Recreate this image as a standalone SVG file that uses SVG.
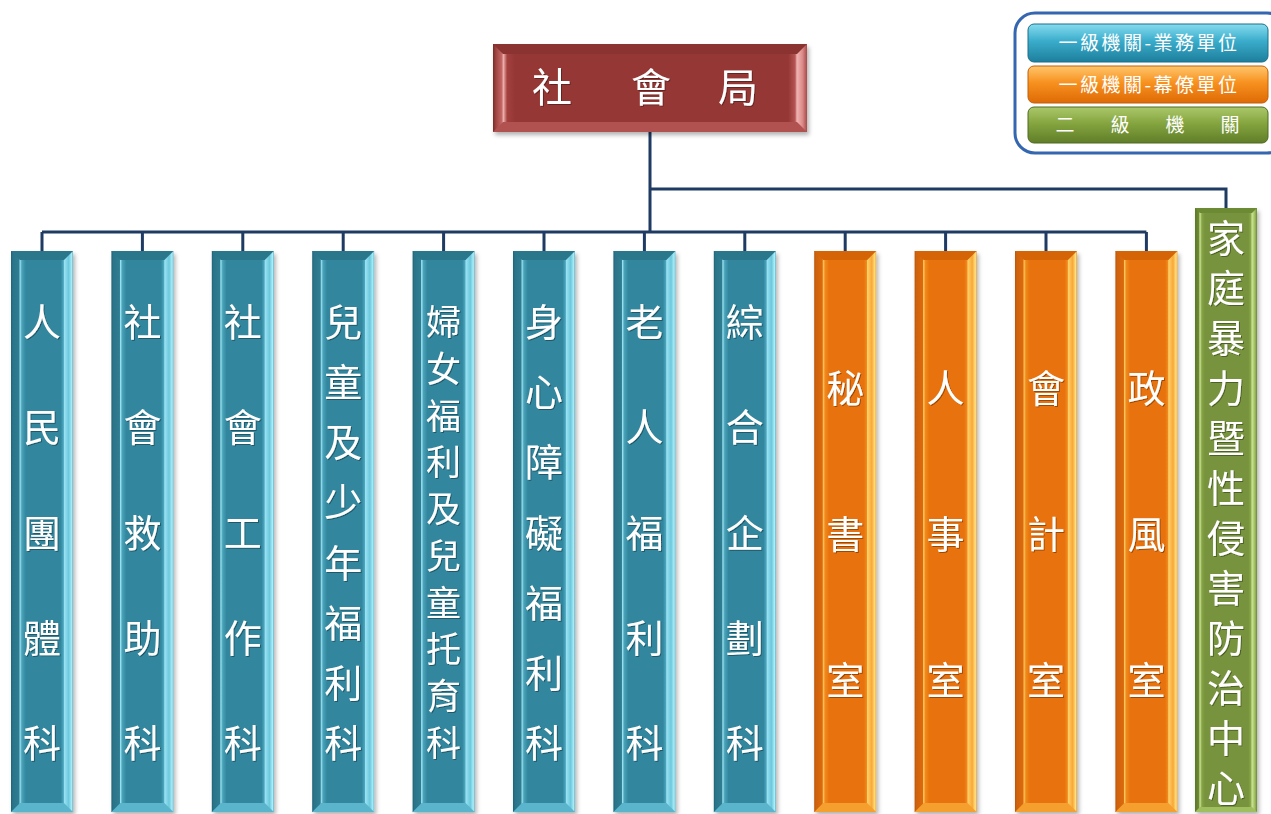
<svg xmlns="http://www.w3.org/2000/svg" width="1271" height="814" viewBox="0 0 1271 814">
<style>
.lbl{font-family:"Noto Sans CJK TC","Noto Sans CJK SC",sans-serif;fill:#ffffff;text-anchor:middle;}
.col{font-size:38px;filter:url(#ts);}
.col.dense{font-size:35px;}
.conn{fill:none;stroke:#1f3a63;stroke-width:3;}
.tealTop{fill:#2a778c;} .tealBot{fill:#5ab5cc;}
.orgTop{fill:#d56407;} .orgBot{fill:#f5a02e;}
.grnTop{fill:#6c8934;} .grnBot{fill:#9fbe5e;}
.lg{font-size:19px;letter-spacing:2.5px;}
</style>
<defs>
<filter id="sh" x="-10%" y="-10%" width="130%" height="130%"><feDropShadow dx="2" dy="3" stdDeviation="2" flood-color="#000" flood-opacity="0.3"/></filter>
<filter id="ts" x="-20%" y="-20%" width="140%" height="140%"><feDropShadow dx="1" dy="1" stdDeviation="0.6" flood-color="#000" flood-opacity="0.35"/></filter>
<linearGradient id="gTeal" x1="0" y1="0" x2="1" y2="0">
<stop offset="0" stop-color="#1f6376"/><stop offset="0.03" stop-color="#2b7489"/><stop offset="0.13" stop-color="#2f7c91"/><stop offset="0.145" stop-color="#9be3f2"/><stop offset="0.175" stop-color="#4aa3ba"/><stop offset="0.24" stop-color="#31869d"/><stop offset="0.8" stop-color="#31869d"/><stop offset="0.845" stop-color="#4aa6be"/><stop offset="0.86" stop-color="#9ae2f2"/><stop offset="0.93" stop-color="#6cc8dd"/><stop offset="0.98" stop-color="#aaeef8"/><stop offset="1" stop-color="#5aaec4"/>
</linearGradient>
<linearGradient id="gOrg" x1="0" y1="0" x2="1" y2="0">
<stop offset="0" stop-color="#b9560a"/><stop offset="0.03" stop-color="#cf620a"/><stop offset="0.13" stop-color="#db6a0b"/><stop offset="0.145" stop-color="#ffc65e"/><stop offset="0.175" stop-color="#f08a1c"/><stop offset="0.24" stop-color="#e8720c"/><stop offset="0.8" stop-color="#e8720c"/><stop offset="0.845" stop-color="#f08a1e"/><stop offset="0.86" stop-color="#ffd06a"/><stop offset="0.93" stop-color="#f9a735"/><stop offset="0.98" stop-color="#ffe384"/><stop offset="1" stop-color="#e8962a"/>
</linearGradient>
<linearGradient id="gGrn" x1="0" y1="0" x2="1" y2="0">
<stop offset="0" stop-color="#5c7729"/><stop offset="0.06" stop-color="#6e8a35"/><stop offset="0.08" stop-color="#cde596"/><stop offset="0.11" stop-color="#86a447"/><stop offset="0.16" stop-color="#77933c"/><stop offset="0.86" stop-color="#77933c"/><stop offset="0.9" stop-color="#8aa84a"/><stop offset="0.92" stop-color="#cde596"/><stop offset="0.97" stop-color="#9ab85a"/><stop offset="1" stop-color="#6b8833"/>
</linearGradient>
<linearGradient id="gRed" x1="0" y1="0" x2="1" y2="0">
<stop offset="0" stop-color="#7a2a28"/><stop offset="0.01" stop-color="#a14442"/><stop offset="0.028" stop-color="#c46866"/><stop offset="0.033" stop-color="#eeb0ae"/><stop offset="0.045" stop-color="#a3403e"/><stop offset="0.07" stop-color="#953735"/><stop offset="0.94" stop-color="#953735"/><stop offset="0.962" stop-color="#b55553"/><stop offset="0.968" stop-color="#f0b4b2"/><stop offset="0.985" stop-color="#dc8d8b"/><stop offset="1" stop-color="#a84a48"/>
</linearGradient>
<linearGradient id="lTeal" x1="0" y1="0" x2="0" y2="1"><stop offset="0" stop-color="#86dcef"/><stop offset="0.45" stop-color="#3aaccb"/><stop offset="1" stop-color="#1d7f9c"/></linearGradient>
<linearGradient id="lOrg" x1="0" y1="0" x2="0" y2="1"><stop offset="0" stop-color="#ffc66c"/><stop offset="0.45" stop-color="#f7911f"/><stop offset="1" stop-color="#de6a06"/></linearGradient>
<linearGradient id="lGrn" x1="0" y1="0" x2="0" y2="1"><stop offset="0" stop-color="#abc86a"/><stop offset="0.45" stop-color="#85a540"/><stop offset="1" stop-color="#5f7e28"/></linearGradient>
</defs>
<rect x="0" y="0" width="1271" height="814" fill="#ffffff"/>

<g id="connectors">
<path class="conn" d="M650 132 V232 M42 232 H1146.4 M650 189 H1226 V208"/>
<path class="conn" d="M42 232 V251 M142.4 232 V251 M242.8 232 V251 M343.2 232 V251 M443.6 232 V251 M544 232 V251 M644.4 232 V251 M744.8 232 V251 M845.2 232 V251 M945.6 232 V251 M1046 232 V251 M1146.4 232 V251"/>
</g>

<g id="root">
<rect x="493" y="44" width="314" height="88" fill="url(#gRed)" filter="url(#sh)"/>
<polygon points="493,44 807,44 797,54 503,54" fill="#8a3331"/>
<polygon points="493,132 807,132 797,122 503,122" fill="#b25250"/>
<text class="lbl" font-size="40" filter="url(#ts)"><tspan x="552" y="102">社</tspan><tspan x="651" y="102">會</tspan><tspan x="738" y="102">局</tspan></text>
</g>

<g id="legend">
<rect x="1015" y="13" width="272" height="140" rx="20" fill="#ffffff" stroke="#3566b0" stroke-width="3"/>
<rect x="1028" y="24" width="240" height="38" rx="6" fill="url(#lTeal)" stroke="#1e6f87" stroke-width="1"/>
<rect x="1028" y="66" width="240" height="37" rx="6" fill="url(#lOrg)" stroke="#c0600a" stroke-width="1"/>
<rect x="1028" y="107" width="240" height="36" rx="6" fill="url(#lGrn)" stroke="#4f6a22" stroke-width="1"/>
<text class="lbl lg" x="1149" y="50">一級機關-業務單位</text>
<text class="lbl lg" x="1149" y="92">一級機關-幕僚單位</text>
<text class="lbl" font-size="19"><tspan x="1065" y="132">二</tspan><tspan x="1120" y="132">級</tspan><tspan x="1175" y="132">機</tspan><tspan x="1230" y="132">關</tspan></text>
</g>

<g id="n1">
<rect x="11" y="251" width="62" height="561" fill="url(#gTeal)" filter="url(#sh)"/>
<polygon class="tealTop" points="11,251 73,251 64,260 20,260"/><polygon class="tealBot" points="11,812 73,812 64,803 20,803"/>
<text class="lbl col"><tspan x="42" y="336">人</tspan><tspan x="42" y="441">民</tspan><tspan x="42" y="547">團</tspan><tspan x="42" y="652">體</tspan><tspan x="42" y="757">科</tspan></text>
</g>
<g id="n2">
<rect x="111.4" y="251" width="62" height="561" fill="url(#gTeal)" filter="url(#sh)"/>
<polygon class="tealTop" points="111.4,251 173.4,251 164.4,260 120.4,260"/><polygon class="tealBot" points="111.4,812 173.4,812 164.4,803 120.4,803"/>
<text class="lbl col"><tspan x="142.4" y="336">社</tspan><tspan x="142.4" y="441">會</tspan><tspan x="142.4" y="547">救</tspan><tspan x="142.4" y="652">助</tspan><tspan x="142.4" y="757">科</tspan></text>
</g>
<g id="n3">
<rect x="211.8" y="251" width="62" height="561" fill="url(#gTeal)" filter="url(#sh)"/>
<polygon class="tealTop" points="211.8,251 273.8,251 264.8,260 220.8,260"/><polygon class="tealBot" points="211.8,812 273.8,812 264.8,803 220.8,803"/>
<text class="lbl col"><tspan x="242.8" y="336">社</tspan><tspan x="242.8" y="441">會</tspan><tspan x="242.8" y="547">工</tspan><tspan x="242.8" y="652">作</tspan><tspan x="242.8" y="757">科</tspan></text>
</g>
<g id="n4">
<rect x="312.2" y="251" width="62" height="561" fill="url(#gTeal)" filter="url(#sh)"/>
<polygon class="tealTop" points="312.2,251 374.2,251 365.2,260 321.2,260"/><polygon class="tealBot" points="312.2,812 374.2,812 365.2,803 321.2,803"/>
<text class="lbl col"><tspan x="343.2" y="336">兒</tspan><tspan x="343.2" y="396">童</tspan><tspan x="343.2" y="456">及</tspan><tspan x="343.2" y="516">少</tspan><tspan x="343.2" y="577">年</tspan><tspan x="343.2" y="637">福</tspan><tspan x="343.2" y="697">利</tspan><tspan x="343.2" y="757">科</tspan></text>
</g>
<g id="n5">
<rect x="412.6" y="251" width="62" height="561" fill="url(#gTeal)" filter="url(#sh)"/>
<polygon class="tealTop" points="412.6,251 474.6,251 465.6,260 421.6,260"/><polygon class="tealBot" points="412.6,812 474.6,812 465.6,803 421.6,803"/>
<text class="lbl col dense"><tspan x="443.6" y="335">婦</tspan><tspan x="443.6" y="382">女</tspan><tspan x="443.6" y="429">福</tspan><tspan x="443.6" y="475">利</tspan><tspan x="443.6" y="522">及</tspan><tspan x="443.6" y="569">兒</tspan><tspan x="443.6" y="616">童</tspan><tspan x="443.6" y="662">托</tspan><tspan x="443.6" y="709">育</tspan><tspan x="443.6" y="756">科</tspan></text>
</g>
<g id="n6">
<rect x="513" y="251" width="62" height="561" fill="url(#gTeal)" filter="url(#sh)"/>
<polygon class="tealTop" points="513,251 575,251 566,260 522,260"/><polygon class="tealBot" points="513,812 575,812 566,803 522,803"/>
<text class="lbl col"><tspan x="544" y="336">身</tspan><tspan x="544" y="406">心</tspan><tspan x="544" y="476">障</tspan><tspan x="544" y="547">礙</tspan><tspan x="544" y="617">福</tspan><tspan x="544" y="687">利</tspan><tspan x="544" y="757">科</tspan></text>
</g>
<g id="n7">
<rect x="613.4" y="251" width="62" height="561" fill="url(#gTeal)" filter="url(#sh)"/>
<polygon class="tealTop" points="613.4,251 675.4,251 666.4,260 622.4,260"/><polygon class="tealBot" points="613.4,812 675.4,812 666.4,803 622.4,803"/>
<text class="lbl col"><tspan x="644.4" y="336">老</tspan><tspan x="644.4" y="441">人</tspan><tspan x="644.4" y="547">福</tspan><tspan x="644.4" y="652">利</tspan><tspan x="644.4" y="757">科</tspan></text>
</g>
<g id="n8">
<rect x="713.8" y="251" width="62" height="561" fill="url(#gTeal)" filter="url(#sh)"/>
<polygon class="tealTop" points="713.8,251 775.8,251 766.8,260 722.8,260"/><polygon class="tealBot" points="713.8,812 775.8,812 766.8,803 722.8,803"/>
<text class="lbl col"><tspan x="744.8" y="336">綜</tspan><tspan x="744.8" y="441">合</tspan><tspan x="744.8" y="547">企</tspan><tspan x="744.8" y="652">劃</tspan><tspan x="744.8" y="757">科</tspan></text>
</g>
<g id="n9">
<rect x="814.2" y="251" width="62" height="561" fill="url(#gOrg)" filter="url(#sh)"/>
<polygon class="orgTop" points="814.2,251 876.2,251 867.2,260 823.2,260"/><polygon class="orgBot" points="814.2,812 876.2,812 867.2,803 823.2,803"/>
<text class="lbl col"><tspan x="845.2" y="402">秘</tspan><tspan x="845.2" y="548">書</tspan><tspan x="845.2" y="694">室</tspan></text>
</g>
<g id="n10">
<rect x="914.6" y="251" width="62" height="561" fill="url(#gOrg)" filter="url(#sh)"/>
<polygon class="orgTop" points="914.6,251 976.6,251 967.6,260 923.6,260"/><polygon class="orgBot" points="914.6,812 976.6,812 967.6,803 923.6,803"/>
<text class="lbl col"><tspan x="945.6" y="402">人</tspan><tspan x="945.6" y="548">事</tspan><tspan x="945.6" y="694">室</tspan></text>
</g>
<g id="n11">
<rect x="1015" y="251" width="62" height="561" fill="url(#gOrg)" filter="url(#sh)"/>
<polygon class="orgTop" points="1015,251 1077,251 1068,260 1024,260"/><polygon class="orgBot" points="1015,812 1077,812 1068,803 1024,803"/>
<text class="lbl col"><tspan x="1046" y="402">會</tspan><tspan x="1046" y="548">計</tspan><tspan x="1046" y="694">室</tspan></text>
</g>
<g id="n12">
<rect x="1115.4" y="251" width="62" height="561" fill="url(#gOrg)" filter="url(#sh)"/>
<polygon class="orgTop" points="1115.4,251 1177.4,251 1168.4,260 1124.4,260"/><polygon class="orgBot" points="1115.4,812 1177.4,812 1168.4,803 1124.4,803"/>
<text class="lbl col"><tspan x="1146.4" y="402">政</tspan><tspan x="1146.4" y="548">風</tspan><tspan x="1146.4" y="694">室</tspan></text>
</g>
<g id="n13">
<rect x="1195" y="208" width="62" height="604" fill="url(#gGrn)" filter="url(#sh)"/>
<polygon class="grnTop" points="1195,208 1257,208 1252,213 1200,213"/><polygon class="grnBot" points="1195,812 1257,812 1252,807 1200,807"/>
<text class="lbl col"><tspan x="1226" y="252">家</tspan><tspan x="1226" y="302">庭</tspan><tspan x="1226" y="352">暴</tspan><tspan x="1226" y="402">力</tspan><tspan x="1226" y="452">暨</tspan><tspan x="1226" y="502">性</tspan><tspan x="1226" y="552">侵</tspan><tspan x="1226" y="602">害</tspan><tspan x="1226" y="652">防</tspan><tspan x="1226" y="702">治</tspan><tspan x="1226" y="752">中</tspan><tspan x="1226" y="802">心</tspan></text>
</g>
</svg>
